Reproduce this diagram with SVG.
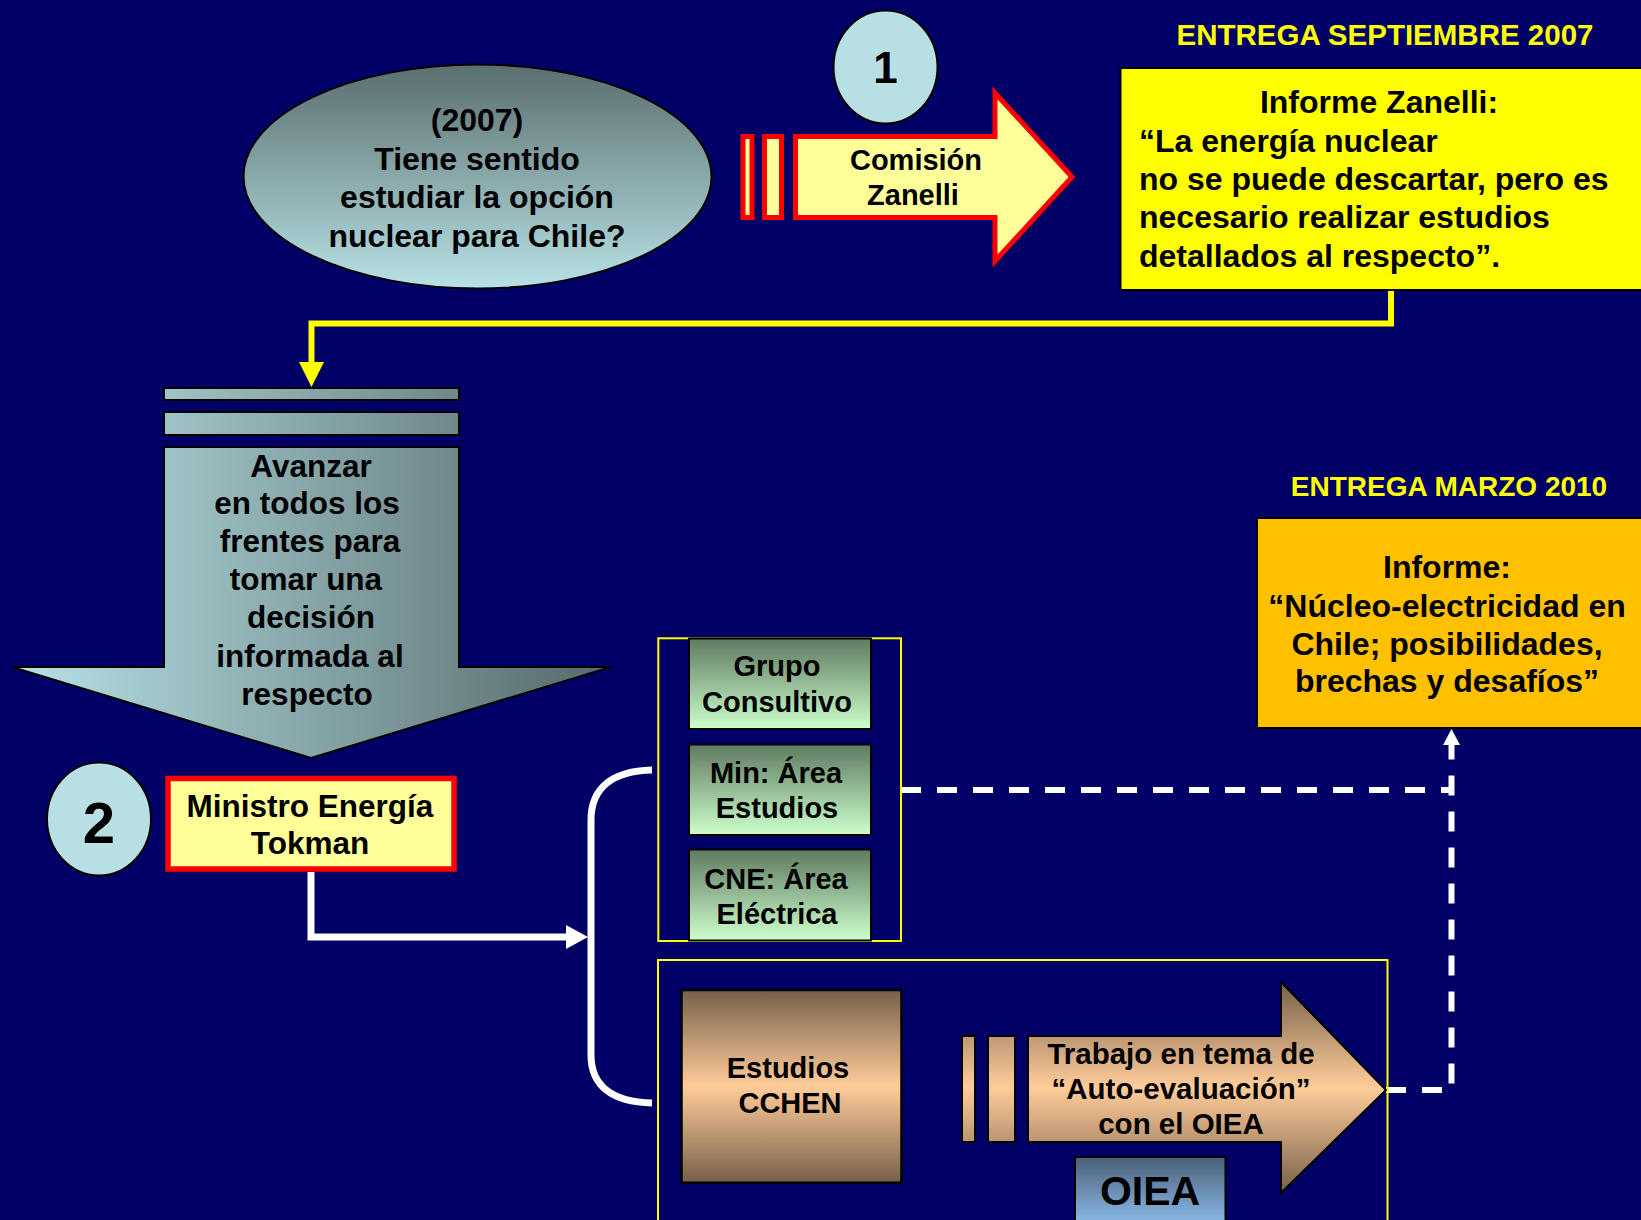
<svg xmlns="http://www.w3.org/2000/svg" width="1641" height="1220" viewBox="0 0 1641 1220">
<defs>
<linearGradient id="ellG" x1="0" y1="0" x2="0" y2="1"><stop offset="0" stop-color="#5a6e6e"/><stop offset="1" stop-color="#b8e2e6"/></linearGradient>
<linearGradient id="grayH" gradientUnits="userSpaceOnUse" x1="12" y1="0" x2="611" y2="0"><stop offset="0" stop-color="#b8e2e6"/><stop offset="1" stop-color="#55696a"/></linearGradient>
<linearGradient id="greenV" x1="0" y1="0" x2="0" y2="1"><stop offset="0" stop-color="#5f7a60"/><stop offset="1" stop-color="#ccffcc"/></linearGradient>
<linearGradient id="brownBox" x1="0" y1="0" x2="0" y2="1"><stop offset="0" stop-color="#76604a"/><stop offset="0.5" stop-color="#ffcc99"/><stop offset="1" stop-color="#76604a"/></linearGradient>
<linearGradient id="brownArr" gradientUnits="userSpaceOnUse" x1="0" y1="982" x2="0" y2="1193"><stop offset="0" stop-color="#76604a"/><stop offset="0.5" stop-color="#ffcc99"/><stop offset="1" stop-color="#76604a"/></linearGradient>
<linearGradient id="blueV" x1="0" y1="0" x2="0" y2="1"><stop offset="0" stop-color="#4a6078"/><stop offset="1" stop-color="#99ccff"/></linearGradient>
</defs>
<style>
text{font-family:"Liberation Sans",Arial,sans-serif;font-weight:bold;fill:#000;text-anchor:middle}
.t32{font-size:32px}
.t31{font-size:31.5px}
.t29{font-size:29px}
.yl{fill:#ffff00;font-size:28px}
.blk{stroke:#000;stroke-width:2}
.red{stroke:#ff0000;stroke-width:5;fill:#ffff99}
.frame{fill:none;stroke:#ffff00;stroke-width:2}
.circ{fill:#b8e0e4;stroke:#000;stroke-width:2}
.left{text-anchor:start}
</style>
<rect x="0" y="0" width="1641" height="1220" fill="#000066"/>

<g id="connectors">
  <path d="M1391 290 V323.5 H311.5 V364" fill="none" stroke="#ffff00" stroke-width="6"/>
  <polygon points="299,362 324,362 311.5,387" fill="#ffff00"/>
  <path d="M311 872 V937 H568" fill="none" stroke="#ffffff" stroke-width="7"/>
  <polygon points="566,925 588,937 566,949" fill="#ffffff"/>
  <path d="M652 770 C612 771 591 788 591 820 V1055 C591 1086 612 1102 652 1103" fill="none" stroke="#ffffff" stroke-width="7"/>
  <path d="M901 790 H1451.5" fill="none" stroke="#ffffff" stroke-width="6" stroke-dasharray="20 16"/>
  <path d="M1386 1090 H1451.5 V745" fill="none" stroke="#ffffff" stroke-width="6" stroke-dasharray="20 16"/>
  <polygon points="1443,745 1460,745 1451.5,729" fill="#ffffff"/>
</g>

<g id="pregunta">
  <ellipse cx="477.5" cy="176.5" rx="234" ry="112" fill="url(#ellG)" class="blk"/>
  <text class="t32" x="477" y="131">(2007)</text>
  <text class="t32" x="477" y="170">Tiene sentido</text>
  <text class="t32" x="477" y="208">estudiar la opción</text>
  <text class="t32" x="477" y="247">nuclear para Chile?</text>
</g>

<g id="num1">
  <ellipse cx="885.5" cy="67" rx="52" ry="56.5" class="circ"/>
  <text x="885.5" y="83" style="font-size:44px">1</text>
</g>

<g id="comision">
  <rect x="743" y="136.5" width="9" height="81" class="red"/>
  <rect x="764.5" y="136.5" width="17" height="81" class="red"/>
  <polygon points="795.5,136.5 995,136.5 995,93 1072,177 995,261 995,217.5 795.5,217.5" class="red"/>
  <text x="916" y="170" style="font-size:29px">Comisión</text>
  <text x="913" y="205" style="font-size:29px">Zanelli</text>
</g>

<g id="entrega2007">
  <text class="yl" x="1385" y="45" style="font-size:29.5px">ENTREGA SEPTIEMBRE 2007</text>
</g>

<g id="informeZanelli">
  <rect x="1120.5" y="68" width="540" height="222" fill="#ffff00" class="blk"/>
  <text class="t32" x="1379" y="113">Informe Zanelli:</text>
  <text class="t32 left" x="1139" y="152">“La energía nuclear</text>
  <text class="t32 left" x="1139" y="190">no se puede descartar, pero es</text>
  <text class="t32 left" x="1139" y="228">necesario realizar estudios</text>
  <text class="t32 left" x="1139" y="267">detallados al respecto”.</text>
</g>

<g id="avanzar">
  <rect x="164" y="388" width="295" height="12" fill="url(#grayH)" class="blk"/>
  <rect x="164" y="412" width="295" height="23" fill="url(#grayH)" class="blk"/>
  <polygon points="164,447 459,447 459,667 611,667 311,758 12,667 164,667" fill="url(#grayH)" class="blk"/>
  <text class="t31" x="311" y="477">Avanzar</text>
  <text class="t31" x="307" y="514">en todos los</text>
  <text class="t31" x="310" y="552">frentes para</text>
  <text class="t31" x="306" y="590">tomar una</text>
  <text class="t31" x="311" y="628">decisión</text>
  <text class="t31" x="310" y="667">informada al</text>
  <text class="t31" x="307" y="705">respecto</text>
</g>

<g id="num2">
  <ellipse cx="99" cy="819" rx="52" ry="56.5" class="circ"/>
  <text x="99" y="843" style="font-size:58px">2</text>
</g>

<g id="ministro">
  <rect x="168" y="778.5" width="286" height="90.5" fill="#ffff99" stroke="#ff0000" stroke-width="5.5"/>
  <text class="t31" x="310" y="817">Ministro Energía</text>
  <text class="t31" x="310" y="854">Tokman</text>
</g>

<g id="grupoFrame">
  <rect x="658.3" y="638.3" width="242.7" height="302.7" class="frame"/>
</g>
<g id="grupoConsultivo">
  <rect x="689" y="638.5" width="182" height="90.5" fill="url(#greenV)" class="blk"/>
  <text class="t29" x="777" y="676">Grupo</text>
  <text class="t29" x="777" y="712">Consultivo</text>
</g>
<g id="minArea">
  <rect x="689" y="744.5" width="182" height="90.5" fill="url(#greenV)" class="blk"/>
  <text class="t29" x="776" y="783">Min: Área</text>
  <text class="t29" x="777" y="818">Estudios</text>
</g>
<g id="cneArea">
  <rect x="689" y="849.5" width="182" height="91" fill="url(#greenV)" class="blk"/>
  <text class="t29" x="776" y="889">CNE: Área</text>
  <text class="t29" x="777" y="924">Eléctrica</text>
</g>

<g id="cchenFrame">
  <rect x="658" y="960" width="729.5" height="300" class="frame"/>
</g>
<g id="cchen">
  <rect x="681.5" y="990" width="220" height="192.7" fill="url(#brownBox)" stroke="#000" stroke-width="2.5"/>
  <text class="t29" x="788" y="1078">Estudios</text>
  <text class="t29" x="790" y="1113">CCHEN</text>
</g>
<g id="trabajo">
  <rect x="962" y="1036" width="13" height="106" fill="url(#brownArr)" class="blk"/>
  <rect x="988" y="1036" width="27" height="106" fill="url(#brownArr)" class="blk"/>
  <polygon points="1028,1036 1281,1036 1281,982 1386,1090 1281,1193 1281,1142 1028,1142" fill="url(#brownArr)" class="blk"/>
  <text x="1181" y="1064" style="font-size:29.5px">Trabajo en tema de</text>
  <text x="1181" y="1099" style="font-size:29.5px">“Auto-evaluación”</text>
  <text x="1181" y="1134" style="font-size:29.5px">con el OIEA</text>
</g>
<g id="oiea">
  <rect x="1075" y="1157" width="150.5" height="80" fill="url(#blueV)" class="blk"/>
  <text x="1150" y="1205" style="font-size:41px">OIEA</text>
</g>

<g id="entrega2010">
  <text class="yl" x="1449" y="496">ENTREGA MARZO 2010</text>
</g>
<g id="informe2010">
  <rect x="1257" y="518" width="400" height="210" fill="#ffc000" class="blk"/>
  <text class="t32" x="1447" y="578">Informe:</text>
  <text class="t32" x="1447" y="617">“Núcleo-electricidad en</text>
  <text class="t32" x="1447" y="655">Chile; posibilidades,</text>
  <text class="t32" x="1447" y="692">brechas y desafíos”</text>
</g>
</svg>
